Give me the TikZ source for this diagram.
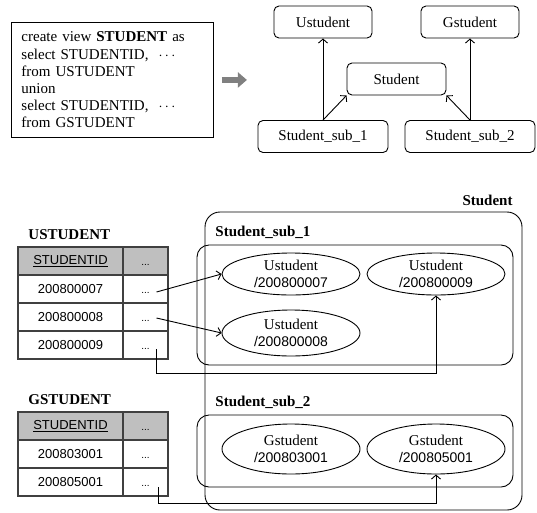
\documentclass[tikz,border=0pt]{standalone}
\usepackage{fontspec}
\setmainfont{Liberation Serif}
\setsansfont{Liberation Sans}
\usetikzlibrary{arrows.meta,shapes.geometric}

\tikzset{
  classbox/.style={draw, rounded corners=5pt, minimum height=32pt, inner sep=0pt, font=\fontsize{15}{17}\selectfont},
  objnode/.style={draw, ellipse, minimum width=138pt, minimum height=42pt, inner sep=0pt, align=center, font=\fontsize{15}{17}\selectfont},
  grpbox/.style={draw, rounded corners=12pt, inner sep=0pt},
  grplabel/.style={font=\bfseries\fontsize{15}{17}\selectfont, inner sep=0pt},
  cell/.style={draw=black!75, line width=1.3pt, minimum height=28pt, inner sep=0pt, font=\sffamily\fontsize{13}{15}\selectfont},
  headcell/.style={cell, fill=black!25},
  link/.style={-{Straight Barb[length=4pt,width=9pt]}},
}
\newcommand\objtext[2]{#1\\{\sffamily\fontsize{14}{17}\selectfont /#2}}
\newcommand\smalldots{{\vphantom{0}\fontsize{10}{12}\selectfont ...}}

\begin{document}
\begin{tikzpicture}[x=1pt, y=-1pt, line width=0.9pt]
      \useasboundingbox (0,0) rectangle (537,512);
      % view definition
      \node (sql) [draw, anchor=north west, align=left, text width=182pt, inner xsep=10pt, minimum height=115pt,
                   font=\fontsize{15}{17.2}\selectfont] at (11,22)
        {create view \textbf{STUDENT} as\\
         select STUDENTID,\ \ $\cdots$\\
         from USTUDENT\\
         union\\
         select STUDENTID,\ \ $\cdots$\\
         from GSTUDENT};
      \draw[line width=6pt, black!50, -{Triangle[length=9pt,width=15pt]}] ([xshift=8pt]sql.east) -- ++(25,0);
      % class hierarchy
      \node (ustu) [classbox, minimum width=98pt] at (323,22) {Ustudent};
      \node (gstu) [classbox, minimum width=98pt] at (470,22) {Gstudent};
      \node (stu)  [classbox, minimum width=99pt] at (396.5,79) {Student};
      \node (sub1) [classbox, minimum width=130pt] at (323,136.5) {Student\_sub\_1};
      \node (sub2) [classbox, minimum width=130pt] at (470,136.5) {Student\_sub\_2};
      \draw[link] (sub1.north) -- (ustu.south);
      \draw[link] (sub1.north) -- (stu.south west);
      \draw[link] (sub2.north) -- (gstu.south);
      \draw[link] (sub2.north) -- (stu.south east);
      % tables
      \node (utab) [grplabel, anchor=west] at (28,235) {USTUDENT};
      \node (uh1) [headcell, minimum width=105pt] at (70.5,261) {\underline{STUDENTID}};
      \node (uh2) [headcell, minimum width=45pt] at (145.5,261) {\smalldots};
      \foreach \id [count=\i] in {200800007,200800008,200800009} {
        \node (uid\i)  [cell, minimum width=105pt] at (70.5,{261+28*\i}) {\id};
        \node (udot\i) [cell, minimum width=45pt] at (145.5,{261+28*\i}) {\smalldots};
      }
      \node (gtab) [grplabel, anchor=west] at (28,400) {GSTUDENT};
      \node (gh1) [headcell, minimum width=105pt] at (70.5,426) {\underline{STUDENTID}};
      \node (gh2) [headcell, minimum width=45pt] at (145.5,426) {\smalldots};
      \foreach \id [count=\i] in {200803001,200805001} {
        \node (gid\i)  [cell, minimum width=105pt] at (70.5,{426+28*\i}) {\id};
        \node (gdot\i) [cell, minimum width=45pt] at (145.5,{426+28*\i}) {\smalldots};
      }
      % objects
      \node (outer) [grpbox, rounded corners=15pt, minimum width=317pt, minimum height=298pt] at (363.5,361) {};
      \node (outlab) [grplabel, anchor=east] at (513,200) {Student};
      \node (box1) [grpbox, minimum width=316pt, minimum height=120pt] at (355,305) {};
      \node (lab1) [grplabel, anchor=west] at (215,232) {Student\_sub\_1};
      \node (box2) [grpbox, minimum width=316pt, minimum height=72pt] at (355,451) {};
      \node (lab2) [grplabel, anchor=west] at (215,402) {Student\_sub\_2};
      \node (e7) [objnode] at (291,274) {\objtext{Ustudent}{200800007}};
      \node (e9) [objnode] at (436,274) {\objtext{Ustudent}{200800009}};
      \node (e8) [objnode, minimum height=46pt] at (291,333) {\objtext{Ustudent}{200800008}};
      \node (g1) [objnode, minimum height=50pt] at (291,449) {\objtext{Gstudent}{200803001}};
      \node (g2) [objnode, minimum height=50pt] at (436,449) {\objtext{Gstudent}{200805001}};
      % instance links
      \draw[link] ([xshift=11pt,yshift=-3pt]udot1.center) -- (e7.west);
      \draw[link] ([xshift=11pt,yshift=-1pt]udot2.center) -- (e8.west);
      \coordinate (ustart) at ([xshift=11pt,yshift=-4pt]udot3.center);
      \coordinate (ubend) at (0,373);
      \draw[link] (ustart) -- (ustart |- ubend) -| (e9.south);
      \coordinate (gstart) at ([xshift=13pt,yshift=-5pt]gdot2.center);
      \coordinate (gbend) at (0,503);
      \draw[link] (gstart) -- (gstart |- gbend) -| (g2.south);
\end{tikzpicture}
\end{document}
